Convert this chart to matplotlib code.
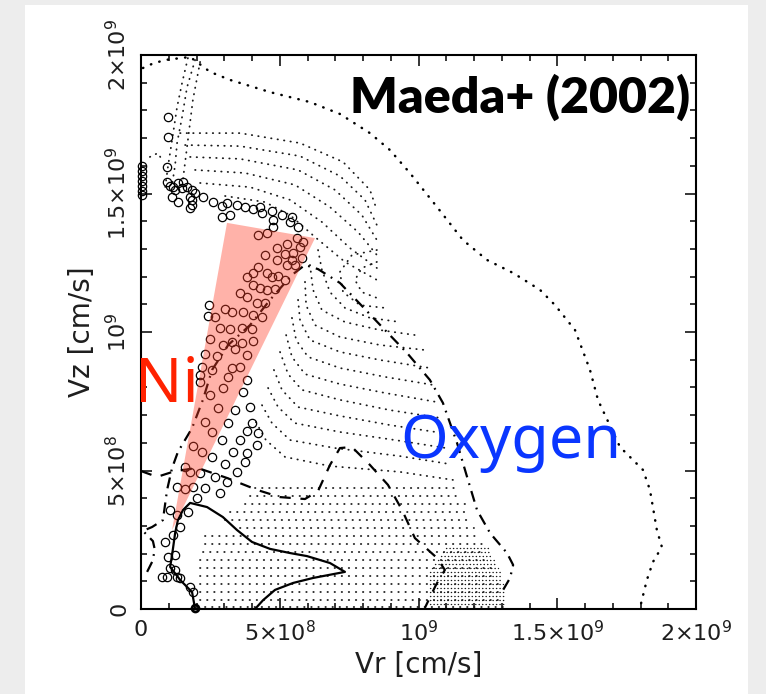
import numpy as np
import matplotlib
matplotlib.use("Agg")
import matplotlib.pyplot as plt
from matplotlib.patches import Polygon, Rectangle
from matplotlib.ticker import MultipleLocator

# velocities are written in units of 1e8 cm/s
UNIT = 1e8

# Ni particles (vr, vz)
ni_points = [
    (0.97, 17.76), (0.97, 17.04), (0.94, 15.96),
    (0.04, 15.99), (0.04, 15.81), (0.04, 15.63), (0.04, 15.45), (0.04, 15.27), (0.04, 15.09), (0.04, 14.95),
    (0.94, 15.42), (1.15, 15.23), (1.33, 15.38), (1.51, 15.42), (1.48, 15.20), (1.66, 15.23), (1.84, 15.13),
    (1.95, 15.02), (1.12, 14.87), (1.33, 14.69), (1.77, 14.87), (1.84, 14.77), (1.84, 14.58), (1.77, 14.48),
    (1.23, 15.13), (1.05, 15.27),
    (2.23, 14.87), (2.59, 14.69), (2.92, 14.55), (3.10, 14.66), (3.21, 14.22), (2.92, 14.15), (3.46, 14.58),
    (3.75, 14.51), (4.04, 14.44), (4.29, 14.51), (4.36, 14.30), (4.72, 14.37), (4.76, 14.04), (4.76, 13.79),
    (5.08, 14.22), (5.44, 14.15), (5.37, 13.97), (5.66, 13.79),
    (4.22, 13.50), (4.54, 13.57), (5.62, 13.39), (5.84, 13.25), (5.73, 13.07), (5.48, 12.85), (4.90, 13.03),
    (4.47, 12.78), (5.26, 13.18), (4.90, 12.60), (5.19, 12.82), (5.44, 12.60), (5.80, 12.67), (5.55, 12.42),
    (5.26, 12.42), (4.22, 12.35), (4.54, 12.13), (4.72, 11.99), (4.94, 12.02), (5.19, 11.88), (3.82, 11.99),
    (4.04, 12.13), (4.04, 11.70), (4.29, 11.59), (4.54, 11.52), (4.83, 11.55), (3.57, 11.41), (3.82, 11.26),
    (4.18, 11.05), (4.47, 11.05), (3.03, 10.83), (3.28, 10.72), (3.68, 10.72), (4.04, 10.61), (4.36, 10.54),
    (2.45, 10.97), (2.41, 10.58), (2.67, 10.54), (2.85, 10.14), (3.21, 10.11), (3.64, 10.14), (4.00, 10.11),
    (2.49, 9.75), (3.28, 9.64), (3.64, 9.60), (4.04, 9.68), (2.95, 9.53), (3.39, 9.39), (3.82, 9.17),
    (2.31, 9.21), (2.74, 9.13), (2.20, 8.74), (2.56, 8.63), (3.28, 8.70), (3.57, 8.74), (2.13, 8.45),
    (3.14, 8.38), (3.82, 8.27), (2.13, 8.19), (2.95, 7.98), (3.68, 7.83), (2.49, 7.73), (2.77, 7.26),
    (3.39, 7.18), (3.93, 7.29), (2.31, 6.75), (3.14, 6.71), (4.00, 6.71), (2.56, 6.39), (3.82, 6.43),
    (4.22, 6.35), (2.92, 6.10), (3.57, 6.10), (4.18, 5.92), (1.87, 5.88), (2.20, 5.67), (3.32, 5.67),
    (3.82, 5.63), (2.56, 5.49), (3.03, 5.23), (3.75, 5.31), (1.59, 5.13), (1.77, 4.95), (2.13, 4.91),
    (3.46, 4.95), (2.67, 4.77), (3.10, 4.58), (1.30, 4.40), (1.59, 4.33), (1.87, 4.40), (2.31, 4.37),
    (2.85, 4.19), (2.02, 4.01),
    (1.05, 3.57), (1.69, 3.50), (1.30, 3.39), (1.41, 2.96), (1.15, 2.67), (0.86, 2.42), (1.23, 1.95),
    (0.97, 1.88), (1.05, 1.48), (1.23, 1.41), (0.76, 1.16), (0.94, 1.16), (1.30, 1.16), (1.41, 1.12),
    (1.77, 0.79), (1.87, 0.61),
]
ni_origin = (1.95, 0.04)

# Ni wedge
wedge_vr = [1.12, 3.10, 6.27]
wedge_vz = [2.85, 13.94, 13.39]

# outer boundary (dotted)
outer_vr = [0.07, 0.40, 0.86, 1.77, 2.49, 3.21, 4.65, 6.09, 7.17, 8.25, 8.97, 9.69, 10.67, 11.60, 12.47,
            13.41, 14.38, 14.92, 15.64, 16.18, 16.47, 17.26, 18.09, 18.34, 18.59, 18.77, 18.45, 18.23, 17.98]
outer_vz = [19.53, 19.68, 19.82, 19.93, 19.39, 19.10, 18.66, 18.30, 17.87, 17.18, 16.57, 15.74, 14.51, 13.32,
            12.60, 12.13, 11.52, 10.97, 10.07, 8.63, 7.54, 5.85, 5.02, 4.30, 2.85, 2.24, 1.70, 1.05, 0.04]

# dash-dot contour
dashdot_vr = [0.22, 0.40, 0.50, 0.43, 0.07, 0.40, 0.79, 0.94, 1.12, 1.33, 1.84, 2.23, 2.56, 3.14, 3.93, 4.65,
              5.44, 5.91, 6.38, 7.17, 8.00, 8.86, 9.59, 10.41, 10.88, 11.39, 11.75, 12.11, 12.58, 13.19,
              13.41, 13.30, 13.05]
dashdot_vz = [1.34, 1.70, 2.13, 2.45, 2.82, 2.96, 3.21, 4.30, 5.09, 5.67, 6.53, 7.55, 8.63, 9.53, 10.25, 11.16,
              12.06, 12.42, 12.27, 11.77, 10.90, 10.00, 9.24, 8.27, 7.44, 5.99, 4.77, 3.57, 2.74, 2.02,
              1.59, 1.12, 0.69]

# long-dashed contour
dashed_vr = [0.00, 0.58, 1.23, 2.05, 3.10, 4.18, 5.01, 5.91, 6.38, 6.81, 7.17, 7.60, 8.25, 8.90, 9.41, 9.87,
             10.67, 10.95, 10.63, 10.23]
dashed_vz = [4.98, 4.77, 4.98, 5.09, 4.73, 4.30, 4.04, 3.97, 4.26, 5.20, 5.81, 5.85, 5.20, 4.48, 3.57, 2.56,
             1.84, 1.41, 0.87, 0.04]

# solid contour
solid_vr = [1.95, 1.84, 1.41, 1.05, 1.12, 1.23, 1.33, 1.51, 1.77, 2.38, 2.95, 3.46, 4.00, 4.65, 5.37, 5.98,
            6.81, 7.35, 6.20, 5.48, 4.83, 4.40, 4.11]
solid_vz = [0.00, 0.61, 1.05, 1.52, 1.95, 2.74, 3.21, 3.57, 3.83, 3.68, 3.32, 2.85, 2.42, 2.17, 2.02, 1.91,
            1.66, 1.34, 1.12, 0.94, 0.69, 0.32, 0.00]

# oxygen particle rows (upper fan and arcs), each (vr list, vz list)
oxygen_rows = [
    ([1.69, 1.48, 1.30, 1.12, 0.97, 0.86], [19.89, 18.99, 18.12, 16.93, 15.96, 15.13]),
    ([1.95, 1.66, 1.48, 1.30, 1.23, 1.12], [19.82, 18.84, 17.76, 16.82, 16.03, 15.31]),
    ([2.13, 1.87, 1.69, 1.51], [19.75, 18.38, 16.93, 15.49]),
    ([0.32, 0.61, 0.76], [16.32, 16.46, 16.21]),
    ([1.41, 3.57, 5.73, 7.28, 8.25, 8.50], [17.18, 17.18, 16.82, 16.14, 15.13, 14.40]),
    ([1.59, 3.57, 5.73, 7.17, 8.07, 8.50], [16.75, 16.71, 16.35, 15.63, 14.77, 13.86]),
    ([1.77, 3.57, 5.66, 6.99, 7.96, 8.50], [16.32, 16.25, 15.85, 15.13, 14.22, 13.32]),
    ([1.95, 3.75, 5.55, 6.81, 7.82, 8.50], [15.85, 15.74, 15.31, 14.51, 13.61, 12.78]),
    ([2.13, 3.93, 5.37, 6.52, 7.53, 8.50], [15.38, 15.23, 14.77, 13.97, 13.03, 12.31]),
    ([3.03, 4.47, 5.37, 6.27, 7.35, 8.50], [14.91, 14.69, 14.22, 13.43, 12.53, 11.88]),
    ([8.50, 7.96, 7.71, 7.96, 8.50], [12.53, 12.31, 11.88, 11.44, 11.23]),
    ([8.50, 7.60, 7.17, 7.28, 7.89, 8.79], [12.96, 12.78, 12.17, 11.44, 10.97, 10.87]),
    ([6.38, 6.52, 6.81, 7.35, 8.25, 9.33], [12.96, 12.24, 11.44, 10.87, 10.51, 10.36]),
    ([6.09, 6.20, 6.52, 7.35, 8.61, 9.87], [12.42, 11.52, 10.79, 10.36, 10.07, 9.89]),
    ([5.91, 5.95, 6.27, 7.17, 8.61, 10.23], [11.81, 10.97, 10.25, 9.82, 9.53, 9.35]),
    ([5.66, 5.73, 6.09, 7.17, 8.61, 10.41], [11.16, 10.43, 9.71, 9.28, 8.99, 8.70]),
    ([5.44, 5.59, 6.02, 7.17, 8.79, 10.52], [10.51, 9.71, 9.10, 8.70, 8.38, 8.09]),
    ([5.23, 5.44, 5.91, 7.17, 8.79, 10.67], [9.89, 9.10, 8.48, 8.12, 7.80, 7.47]),
    ([5.01, 5.30, 5.80, 7.17, 8.97, 10.77], [9.28, 8.48, 7.91, 7.55, 7.18, 6.90]),
    ([4.79, 5.08, 5.66, 7.17, 8.97, 10.88], [8.63, 7.91, 7.29, 6.97, 6.64, 6.35]),
    ([4.58, 4.94, 5.55, 7.17, 9.15, 10.99], [7.98, 7.29, 6.71, 6.39, 6.10, 5.81]),
    ([4.36, 4.72, 5.37, 6.99, 9.33, 11.14], [7.36, 6.71, 6.10, 5.81, 5.52, 5.23]),
    ([4.14, 4.50, 5.19, 6.81, 9.33, 11.24], [6.75, 6.10, 5.49, 5.16, 4.95, 4.66]),
]

# lower oxygen rows: height, start, end
low_vz = [4.37, 4.08, 3.79, 3.50, 3.21, 2.92, 2.64, 2.35, 2.06, 1.77, 1.48, 1.19, 0.90, 0.61, 0.32, 0.07]
low_vr0 = [4.11, 3.93, 3.75, 3.21, 3.03, 3.57, 2.31, 2.31, 2.23, 2.13, 2.13, 2.13, 2.13, 2.13, 2.13, 2.31]
low_vr1 = [11.42, 11.57, 11.68, 11.78, 11.89, 12.00, 12.14, 12.29, 12.43, 12.58, 12.72, 12.83, 12.94,
           13.01, 13.08, 13.12]

# densely packed rows near the equator
dense_vz = [2.20, 2.06, 1.91, 1.77, 1.62, 1.48, 1.34, 1.19, 1.05, 0.90, 0.76, 0.61, 0.47, 0.32, 0.18]
dense_vr0 = [11.0, 10.9, 10.8, 10.7, 10.6, 10.5, 10.4, 10.4, 10.4, 10.4, 10.4, 10.4, 10.4, 10.4, 10.4]
dense_vr1 = [12.50, 12.58, 12.65, 12.72, 12.80, 12.87, 12.93, 12.98, 13.02, 13.05, 13.08, 13.10, 13.11,
             13.12, 13.12]

major_ticks = [0, 5e8, 1e9, 1.5e9, 2e9]
tick_labels = ['0', '5×10$^{8}$', '10$^{9}$', '1.5×10$^{9}$', '2×10$^{9}$']

plt.rcParams['lines.scale_dashes'] = False
plt.rcParams['mathtext.default'] = 'regular'
plt.rcParams['font.family'] = ['DejaVu Sans']

fig = plt.figure(figsize=(7.66, 6.94), dpi=100, facecolor='#ededed')
fig.patches.append(Rectangle((25 / 766, 0), 723 / 766, 689 / 694, transform=fig.transFigure,
                             facecolor='white', edgecolor='none', zorder=-5))
ax = fig.add_axes([141 / 766, 85 / 694, 555 / 766, 554 / 694])
ax.set_facecolor('none')

u = lambda v: np.asarray(v) * UNIT

# oxygen field
for vr, vz in oxygen_rows:
    ax.plot(u(vr), u(vz), color='#1a1a1a', lw=1.3, dashes=(0.3, 4.4), dash_capstyle='round', zorder=2)
for z, a, b in zip(low_vz, low_vr0, low_vr1):
    ax.plot(u([a, b]), u([z, z]), color='#1a1a1a', lw=1.3, dashes=(0.3, 4.8), dash_capstyle='round', zorder=2)
for z, a, b in zip(dense_vz, dense_vr0, dense_vr1):
    ax.plot(u([a, b]), u([z, z]), color='#1a1a1a', lw=1.0, dashes=(0.2, 2.3), dash_capstyle='round', zorder=2)

ax.plot(u(outer_vr), u(outer_vz), color='black', lw=1.8, dashes=(0.3, 6.0), dash_capstyle='round', zorder=3)
ax.plot(u(dashdot_vr), u(dashdot_vz), color='black', lw=1.6, dashes=(8, 4.5, 1.3, 4.5), zorder=3)
ax.plot(u(dashed_vr), u(dashed_vz), color='black', lw=1.6, dashes=(8, 7), zorder=3)
ax.plot(u(solid_vr), u(solid_vz), color='black', lw=1.6, zorder=3)

pts = np.array(ni_points)
ax.plot(u(pts[:, 0]), u(pts[:, 1]), 'o', ms=6.0, mfc='none', mec='black', mew=0.9, zorder=4, clip_on=False)
ax.plot(u(ni_origin[0]), u(ni_origin[1]), 'o', ms=5.0, mfc='none', mec='black', mew=2.0, zorder=4,
        clip_on=False)

ax.add_patch(Polygon(np.column_stack([u(wedge_vr), u(wedge_vz)]), closed=True,
                     facecolor=(1.0, 0.25, 0.16), edgecolor='none', alpha=0.4, zorder=5))

ax.set_xlim(0, 2e9)
ax.set_ylim(0, 2e9)
ax.set_xticks(major_ticks)
ax.set_yticks(major_ticks)
ax.set_xticklabels(tick_labels, fontsize=16, color='#1e1e1e')
ax.set_yticklabels(tick_labels, fontsize=16, color='#1e1e1e', rotation=90, va='center')
ax.xaxis.set_minor_locator(MultipleLocator(1e8))
ax.yaxis.set_minor_locator(MultipleLocator(1e8))
ax.tick_params(which='both', direction='in', top=True, right=True, width=1.1)
ax.tick_params(which='major', length=8, pad=8)
ax.tick_params(which='minor', length=4.5)
for s in ax.spines.values():
    s.set_linewidth(1.5)

ax.set_xlabel('Vr [cm/s]', fontsize=20, color='#1e1e1e', labelpad=4)
ax.set_ylabel('Vz [cm/s]', fontsize=20, color='#1e1e1e', labelpad=6)

ax.text(0.989, 0.895, 'Maeda+ (2002)', transform=ax.transAxes, ha='right', va='baseline',
        fontsize=36, fontweight='heavy', family=['Lato', 'DejaVu Sans'], color='black', zorder=6)
fig.text(135 / 766, 1 - 402 / 694, 'Ni', ha='left', va='baseline', fontsize=45,
         family=['Noto Sans', 'DejaVu Sans'], color='#ff2200')
fig.text(400 / 766, 1 - 458 / 694, 'Oxygen', ha='left', va='baseline', fontsize=44,
         family=['Noto Sans', 'DejaVu Sans'], color='#0a36ff')

fig.savefig('out.png', dpi=100, facecolor=fig.get_facecolor())
